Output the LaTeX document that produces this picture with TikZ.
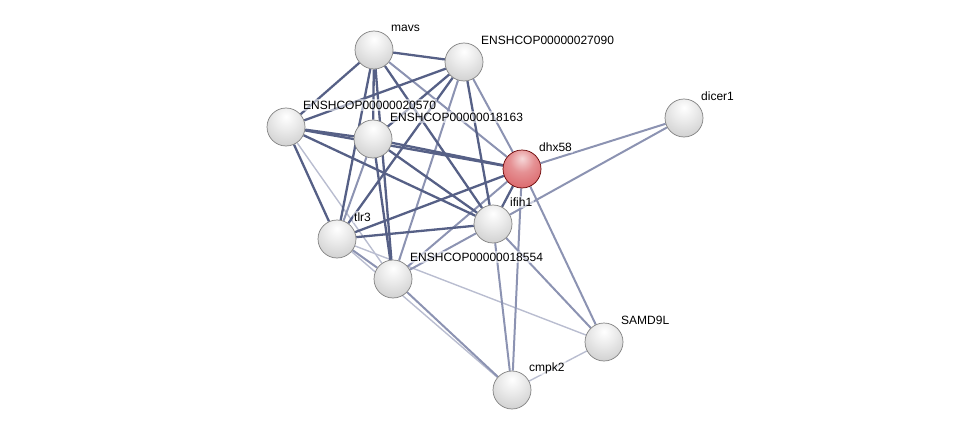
\documentclass[tikz,border=0pt]{standalone}
\usepackage{fontspec}
\setmainfont{Liberation Sans}
\usetikzlibrary{backgrounds}

\definecolor{edgeA}{RGB}{86,96,134}
\definecolor{edgeB}{RGB}{140,147,178}
\definecolor{edgeC}{RGB}{185,189,208}
\definecolor{hball}{RGB}{218,98,102}

\pgfdeclareradialshading{protball}{\pgfpoint{0bp}{14bp}}{%
  color(0bp)=(white); color(16bp)=(black!8); color(38bp)=(black!20);
  color(56bp)=(black!30); color(66bp)=(black!42); color(100bp)=(black!42)}
\pgfdeclareradialshading{queryball}{\pgfpoint{0bp}{14bp}}{%
  color(0bp)=(hball!25!white); color(16bp)=(hball!70!white); color(38bp)=(hball);
  color(56bp)=(hball!92!black); color(66bp)=(hball!78!black); color(100bp)=(hball!78!black)}

\tikzset{
  prot/.style={circle, minimum size=38pt, inner sep=0pt, draw=black!50, line width=0.7pt,
    shading=protball},
  query/.style={prot, draw=red!40!black, shading=queryball},
  lbl/.style={font=\fontsize{12}{14}\selectfont, inner sep=1.5pt,
    fill=white, fill opacity=0.55, text opacity=1},
  heavy/.style={edgeA, line width=2.3pt},
  medium/.style={edgeB, line width=2pt},
  light/.style={edgeC, line width=1.4pt}
}

\begin{document}
\begin{tikzpicture}[x=1pt, y=-1pt]
\useasboundingbox (0,0) rectangle (975,436);

% proteins
\node[prot]  (mavs)   at (374,50)  {};
\node[prot]  (e27090) at (464,62)  {};
\node[prot]  (e20570) at (286,127) {};
\node[prot]  (e18163) at (373,139) {};
\node[query] (dhx58)  at (522,169) {};
\node[prot]  (dicer1) at (684,118) {};
\node[prot]  (ifih1)  at (493,224) {};
\node[prot]  (tlr3)   at (337,239) {};
\node[prot]  (e18554) at (393,279) {};
\node[prot]  (samd9l) at (604,342) {};
\node[prot]  (cmpk2)  at (512,390) {};

% labels
\foreach \n/\t in {mavs/mavs, e27090/ENSHCOP00000027090, e20570/ENSHCOP00000020570,
  e18163/ENSHCOP00000018163, dhx58/dhx58, dicer1/dicer1, ifih1/ifih1, tlr3/tlr3,
  e18554/ENSHCOP00000018554, samd9l/SAMD9L, cmpk2/cmpk2}
  \node[lbl, anchor=west] (\n-l) at ([xshift=15.5pt,yshift=22pt]\n.center) {\t};

% edges
\begin{scope}[on background layer]
\foreach \a/\b in {e20570/e18554, tlr3/cmpk2, tlr3/samd9l, cmpk2/samd9l}
  \draw[light] (\a) -- (\b);
\foreach \a/\b in {e27090/dhx58, e27090/e18554, dhx58/e18554, dhx58/dicer1, ifih1/dicer1,
  dhx58/cmpk2, dhx58/samd9l, ifih1/samd9l, ifih1/cmpk2, ifih1/e18554, tlr3/e18554,
  e18554/cmpk2, mavs/dhx58, e18163/tlr3}
  \draw[medium] (\a) -- (\b);
\foreach \a/\b in {mavs/e27090, mavs/e20570, mavs/e18163, mavs/tlr3, mavs/e18554, mavs/ifih1,
  e27090/e20570, e27090/e18163, e27090/ifih1, e27090/tlr3, e20570/e18163, e20570/dhx58,
  e20570/ifih1, e20570/tlr3, e18163/dhx58, e18163/ifih1, e18163/e18554, dhx58/ifih1,
  dhx58/tlr3, tlr3/ifih1}
  \draw[heavy] (\a) -- (\b);
\end{scope}
\end{tikzpicture}
\end{document}
